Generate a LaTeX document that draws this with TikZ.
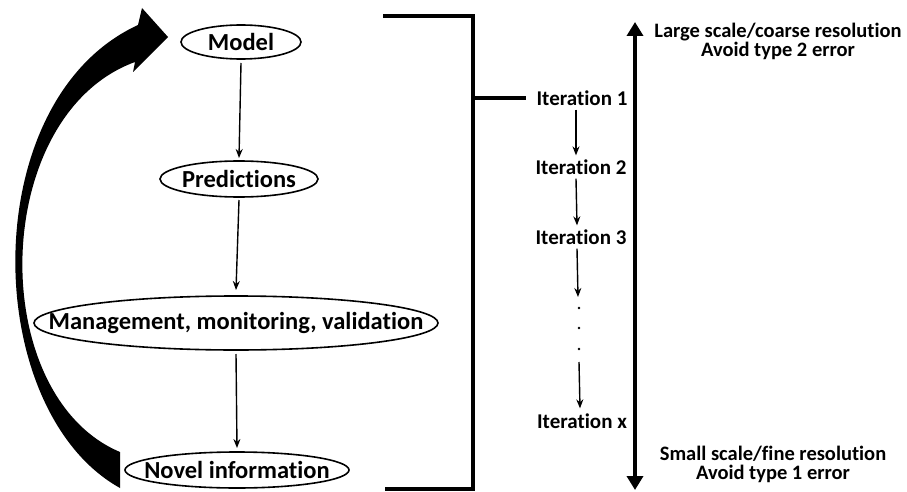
\documentclass[tikz,border=0pt]{standalone}
\usepackage{fontspec}
\setmainfont{Carlito}[Ligatures=NoCommon]
\usetikzlibrary{arrows.meta,calc}
\begin{document}
\begin{tikzpicture}[x=1pt,y=-1pt,
  lbl/.style={inner sep=0pt,font=\bfseries\fontsize{24.5}{26}\selectfont},
  ov/.style={line width=1.6pt},
  flow/.style={line width=1.4pt,-{Stealth[length=9pt,width=7pt]}},
  iter/.style={font=\bfseries\fontsize{21}{24}\selectfont,inner sep=0pt},
  side/.style={font=\bfseries\fontsize{20.5}{19}\selectfont,align=center,inner sep=0pt},
  brk/.style={line width=3.5pt}]
\useasboundingbox (0,0) rectangle (907,492);
% nodes
\node[lbl] (model) at (241,42) {Model};
\node[lbl] (pred) at (239,179) {Predictions};
\node[lbl] (mgmt) at (236,323) {Management, monitoring, validation};
\node[lbl] (novel) at (237,470) {Novel information};
\draw[ov] (model.center) ellipse [x radius=60pt, y radius=17pt];
\draw[ov] (pred.center) ellipse [x radius=79pt, y radius=18pt];
\draw[ov] (mgmt.center) ellipse [x radius=202pt, y radius=27pt];
\draw[ov] (novel.center) ellipse [x radius=112pt, y radius=18pt];
% flow arrows
\draw[flow] ($(model.center)+(0,21)$) -- ($(pred.center)+(0,-21)$);
\draw[flow] ($(pred.center)+(0,21)$) -- ($(mgmt.center)+(0,-33)$);
\draw[flow] ($(mgmt.center)+(0,31)$) -- ($(novel.center)+(0,-22)$);
% big curved arrow
\fill (120,488) .. controls (-20,410) and (-25,100) .. (138,25) -- (142,8) -- (168,37) -- (133,72) -- (135,62)
  .. controls (-10,115) and (-15,395) .. (120,452) -- cycle;
% bracket
\coordinate (bt) at (383,16);
\coordinate (bc) at (473,16);
\coordinate (bd) at (473,489);
\coordinate (bb) at (385,489);
\draw[brk,line join=miter] (bt) -- (bc) -- (bd) -- (bb);
% iterations
\node[iter] (i1) at (582,98) {Iteration 1};
\node[iter] (i2) at (581,167) {Iteration 2};
\node[iter] (i3) at (581,237) {Iteration 3};
\node[iter] (ix) at (582,421) {Iteration x};
\coordinate (stub) at (475,98);
\draw[brk] (stub) -- ([xshift=-10pt]i1.west);
\node[circle,fill,inner sep=0pt,minimum size=2.6pt] (d1) at (579,308) {};
\node[circle,fill,inner sep=0pt,minimum size=2.6pt] (d2) at (579,328) {};
\node[circle,fill,inner sep=0pt,minimum size=2.6pt] (d3) at (579,349) {};
\draw[flow] ($(i1.south)+(-6,4)$) -- ($(i2.north)+(-5,-4)$);
\draw[flow] ($(i2.south)+(-5,4)$) -- ($(i3.north)+(-4,-4)$);
\draw[flow] ($(i3.south)+(-4,4)$) -- ($(d1)+(-1,-11)$);
\draw[flow] ($(d3)+(0,13)$) -- ($(ix.north)+(-2,-5)$);
% scale arrow
\coordinate (st) at (635,22);
\coordinate (sb) at (635,490);
\draw[line width=4.5pt,{Triangle[length=14pt,width=16pt]}-{Triangle[length=14pt,width=16pt]}] (st) -- (sb);
\node[side] (top) at (778,41) {Large scale/coarse resolution\\Avoid type 2 error};
\node[side] (bot) at (773,464) {Small scale/fine resolution\\Avoid type 1 error};
\end{tikzpicture}
\end{document}
